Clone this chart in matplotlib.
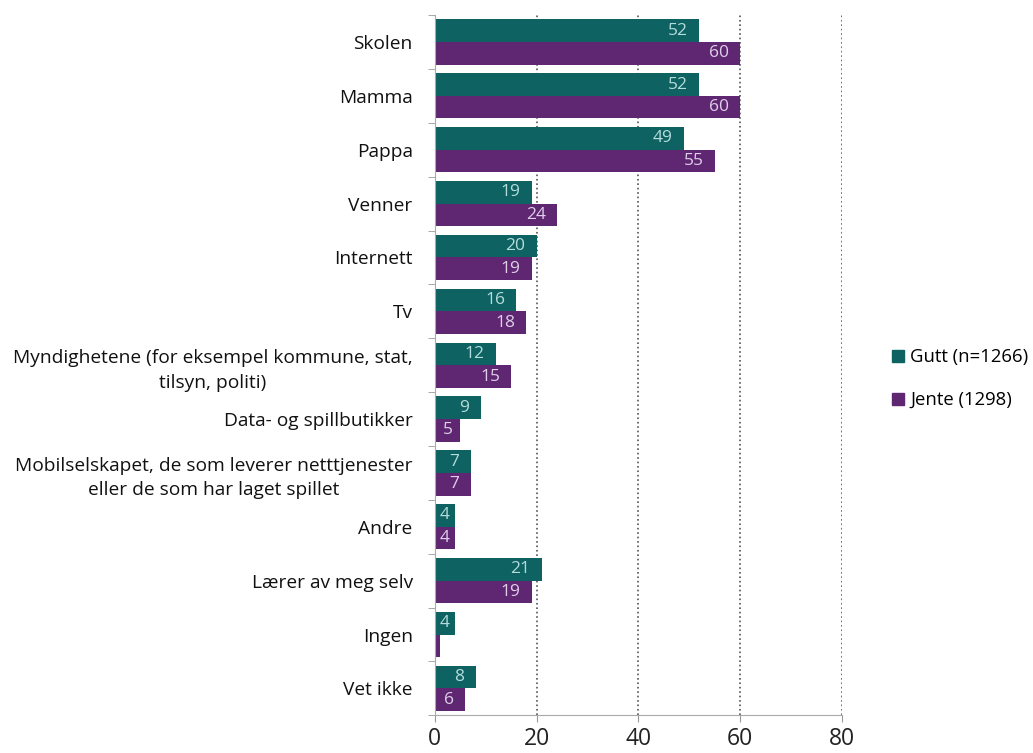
import numpy as np
import matplotlib as mpl
import matplotlib.pyplot as plt
from matplotlib.patches import Patch

mpl.rcParams['font.family'] = ['Open Sans', 'DejaVu Sans']

categories = ["Skolen", "Mamma", "Pappa", "Venner", "Internett", "Tv",
              "Myndighetene (for eksempel kommune, stat,\ntilsyn, politi)",
              "Data- og spillbutikker",
              "Mobilselskapet, de som leverer netttjenester\neller de som har laget spillet",
              "Andre", "Lærer av meg selv", "Ingen", "Vet ikke"]
gutt = [52, 52, 49, 19, 20, 16, 12, 9, 7, 4, 21, 4, 8]
jente = [60, 60, 55, 24, 19, 18, 15, 5, 7, 4, 19, 1, 6]
gutt_lbl = ["52", "52", "49", "19", "20", "16", "12", "9", "7", "4", "21", "4", "8"]
jente_lbl = ["60", "60", "55", "24", "19", "18", "15", "5", "7", "4", "19", "", "6"]
legend_labels = ["Gutt (n=1266)", "Jente (1298)"]

c_gutt = "#0e6262"
c_jente = "#5f2672"

fig = plt.figure(figsize=(10.33, 7.53), dpi=100)
ax = fig.add_axes([0.421, 0.05, 0.394, 0.93])

n = len(categories)
y = np.arange(n)
h = 0.42
ax.barh(y - h/2, gutt, height=h, color=c_gutt, zorder=2)
ax.barh(y + h/2, jente, height=h, color=c_jente, zorder=2)

# value labels inside bar ends (centred on very short bars)
def put_label(val, ypos, txt, col):
    if val < 6:
        ax.text(val / 2, ypos, txt, ha='center', va='center', color=col, fontsize=12.5, zorder=3)
    else:
        ax.text(val - 2.2, ypos, txt, ha='right', va='center', color=col, fontsize=12.5, zorder=3)

for i in range(n):
    put_label(gutt[i], y[i] - h/2, gutt_lbl[i], "#b5dcdc")
    if jente_lbl[i]:
        put_label(jente[i], y[i] + h/2, jente_lbl[i], "#e0cfe8")

ax.set_ylim(n - 0.5, -0.5)
ax.set_xlim(0, 80)
ax.set_xticks([0, 20, 40, 60, 80])
ax.tick_params(axis='x', labelsize=16.5, length=5, color='#999999', colors='#222222')
ax.xaxis.grid(True, color='#555555', ls=':', lw=1.2, zorder=1)

ax.set_yticks(y)
ax.set_yticklabels(categories, fontsize=13.8, color='#111111')
for t in ax.get_yticklabels():
    t.set_multialignment('center')
    t.set_linespacing(1.45)
ax.tick_params(axis='y', length=0, pad=16)
ax.set_yticks(np.arange(-0.5, n), minor=True)
ax.tick_params(axis='y', which='minor', length=5, color='#999999')

for s in ['top', 'right']:
    ax.spines[s].set_visible(False)
for s in ['left', 'bottom']:
    ax.spines[s].set_color('#aaaaaa')

handles = [Patch(color=c_gutt), Patch(color=c_jente)]
fig.legend(handles, legend_labels, loc='center left', bbox_to_anchor=(0.847, 0.497),
           frameon=False, fontsize=13.3, handlelength=0.65, handleheight=0.65,
           handletextpad=0.35, labelspacing=1.35)

fig.savefig("out.png", dpi=100)
